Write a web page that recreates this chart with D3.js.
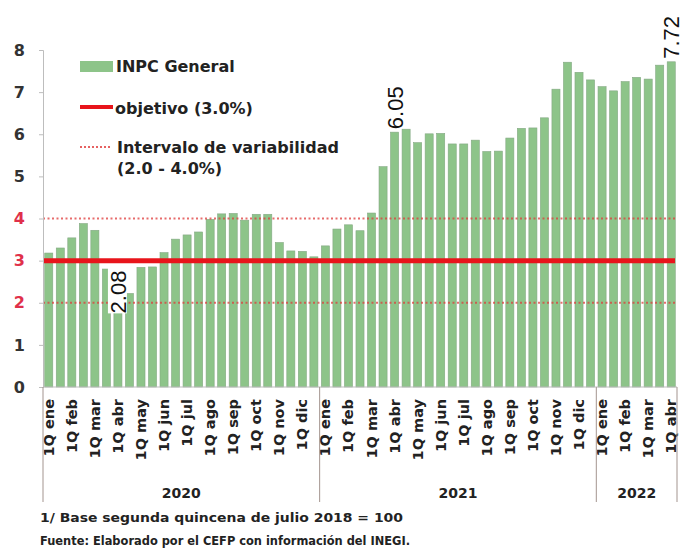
<!DOCTYPE html>
<html>
<head>
<meta charset="utf-8">
<script src="https://cdn.jsdelivr.net/npm/d3@7"></script>
<style>
  body { margin: 0; background: #fff; }
  svg { display: block; }
</style>
</head>
<body>
<svg id="chart" width="682" height="548"></svg>
<script>
// Datos: inflacion anual del INPC por quincena (%)
var meses = ["ene", "feb", "mar", "abr", "may", "jun", "jul", "ago", "sep", "oct", "nov", "dic"]
var quincenas = ["1Q", "2Q"]
var anios = ["2020", "2021", "2022"]

var inpc2020 = [3.18, 3.30, 3.54, 3.88, 3.72, 2.80, 2.08, 2.22, 2.84, 2.85, 3.19, 3.51,
                3.61, 3.68, 3.98, 4.11, 4.12, 3.96, 4.10, 4.10, 3.43, 3.23, 3.22, 3.09]
var inpc2021 = [3.35, 3.75, 3.85, 3.71, 4.13, 5.23, 6.05, 6.12, 5.80, 6.01, 6.02, 5.77,
                5.77, 5.86, 5.59, 5.60, 5.91, 6.14, 6.15, 6.39, 7.07, 7.71, 7.47, 7.29]
var inpc2022 = [7.13, 7.03, 7.25, 7.35, 7.31, 7.64, 7.72]

var objetivo = 3.0
var intervalo = [2.0, 4.0]
var yTicks = [0, 1, 2, 3, 4, 5, 6, 7, 8]
var destacados = ["2020 1Q abr", "2021 1Q abr", "2022 1Q abr"]

var leyenda = ["INPC General", "objetivo (3.0%)", "Intervalo de variabilidad", "(2.0 - 4.0%)"]
var notas = ["1/ Base segunda quincena de julio 2018 = 100",
             "Fuente: Elaborado por el CEFP con información del INEGI."]

// build rows
var series = [inpc2020, inpc2021, inpc2022]
var data = []
series.forEach(function(vals, k) {
    vals.forEach(function(v, i) {
        var cat = quincenas[i % 2] + " " + meses[Math.floor(i / 2)]
        data.push({ key: anios[k] + " " + cat, anio: anios[k], cat: cat, value: v })
    })
})

var plotLeft = 43, plotRight = 677, plotTop = 50, plotBottom = 387
var green = "#8dc489", red = "#e8141b", dotRed = "#e03c3c"
var font = "'DejaVu Sans', sans-serif"

var svg = d3.select("#chart")

var x = d3.scaleBand()
    .domain(data.map(function(d) { return d.key }))
    .range([plotLeft, plotRight])
    .paddingInner(0.3)
    .paddingOuter(0.15)

var y = d3.scaleLinear().domain([0, 8]).range([plotBottom, plotTop])

// bars
svg.append("g").selectAll("rect")
    .data(data)
    .join("rect")
    .attr("x", function(d) { return x(d.key) })
    .attr("y", function(d) { return y(d.value) })
    .attr("width", x.bandwidth())
    .attr("height", function(d) { return y(0) - y(d.value) })
    .attr("fill", green)
    .attr("stroke", "#84a883")
    .attr("stroke-width", 0.6)

// interval lines
svg.append("g").selectAll("line")
    .data(intervalo)
    .join("line")
    .attr("x1", plotLeft).attr("x2", plotRight)
    .attr("y1", function(d) { return y(d) })
    .attr("y2", function(d) { return y(d) })
    .attr("stroke", dotRed)
    .attr("stroke-width", 2)
    .attr("stroke-dasharray", "2,2.5")
    .attr("opacity", 0.75)

// objective line
svg.append("line")
    .attr("x1", plotLeft).attr("x2", plotRight - 2)
    .attr("y1", y(objetivo)).attr("y2", y(objetivo))
    .attr("stroke", red)
    .attr("stroke-width", 5)

// y axis
var yAxis = svg.append("g")
    .attr("transform", "translate(" + plotLeft + ",0)")
    .call(d3.axisLeft(y).tickValues(yTicks).tickSize(4).tickPadding(14))
yAxis.select(".domain").attr("stroke", "#bdbdbd")
yAxis.selectAll(".tick line").attr("stroke", "#bdbdbd")
yAxis.selectAll(".tick text")
    .style("font-family", font)
    .style("font-size", "16px")
    .style("font-weight", "bold")
    .attr("fill", function(d) { return (d >= intervalo[0] && d <= intervalo[1]) ? "#e0304a" : "#333" })

// x axis baseline
svg.append("line")
    .attr("x1", plotLeft).attr("x2", plotRight)
    .attr("y1", y(0)).attr("y2", y(0))
    .attr("stroke", "#bdbdbd")

// category labels (only 1Q)
svg.append("g").selectAll("text")
    .data(data.filter(function(d) { return d.cat.indexOf("1Q") === 0 }))
    .join("text")
    .attr("transform", function(d) {
        return "translate(" + (x(d.key) + x.bandwidth() / 2 + 5) + "," + (plotBottom + 12) + ") rotate(-90)"
    })
    .attr("text-anchor", "end")
    .style("font-family", font)
    .style("font-size", "14.5px")
    .style("font-weight", "bold")
    .attr("fill", "#222")
    .text(function(d) { return d.cat })

// year groups
var groups = anios.map(function(a) {
    var rows = data.filter(function(d) { return d.anio === a })
    var x0 = x(rows[0].key) - x.step() * x.paddingInner() / 2
    var x1 = x(rows[rows.length - 1].key) + x.bandwidth() + x.step() * x.paddingInner() / 2
    return { anio: a, x0: Math.max(x0, plotLeft), x1: Math.min(x1, plotRight) }
})
var bounds = [groups[0].x0].concat(groups.map(function(g) { return g.x1 }))
svg.append("g").selectAll("line")
    .data(bounds)
    .join("line")
    .attr("x1", function(d) { return d }).attr("x2", function(d) { return d })
    .attr("y1", plotBottom).attr("y2", 502)
    .attr("stroke", "#a3948f")
    .attr("stroke-width", 1)

svg.append("g").selectAll("text")
    .data(groups)
    .join("text")
    .attr("x", function(d) { return (d.x0 + d.x1) / 2 })
    .attr("y", 498)
    .attr("text-anchor", "middle")
    .style("font-family", font)
    .style("font-size", "14px")
    .style("font-weight", "bold")
    .attr("fill", "#222")
    .text(function(d) { return d.anio })

// value labels
var lab = svg.append("g").selectAll("g")
    .data(data.filter(function(d) { return destacados.indexOf(d.key) >= 0 }))
    .join("g")
    .attr("transform", function(d) {
        var off = d.value < objetivo ? 14 : -3
        return "translate(" + (x(d.key) + x.bandwidth() / 2 + 8) + "," + (y(d.value) + off) + ") rotate(-90)"
    })
lab.filter(function(d) { return d.value < objetivo })
    .append("rect")
    .attr("x", 0).attr("y", -18).attr("width", 46).attr("height", 19)
    .attr("fill", "#fff")
lab.append("text")
    .style("font-family", "'Liberation Sans', Arial, sans-serif")
    .style("font-size", "22px")
    .attr("fill", "#111")
    .text(function(d) { return d.value.toFixed(2) })

// legend
var lg = svg.append("g").style("font-family", font).style("font-size", "16px").style("font-weight", "bold").attr("fill", "#222")
lg.append("rect").attr("x", 80).attr("y", 61).attr("width", 33).attr("height", 11).attr("fill", green)
lg.append("text").attr("x", 116).attr("y", 72).text(leyenda[0])
lg.append("line").attr("x1", 80).attr("x2", 113).attr("y1", 107).attr("y2", 107)
    .attr("stroke", red).attr("stroke-width", 4)
lg.append("text").attr("x", 115).attr("y", 114).text(leyenda[1])
lg.append("line").attr("x1", 80).attr("x2", 112).attr("y1", 147).attr("y2", 147)
    .attr("stroke", dotRed).attr("stroke-width", 2).attr("stroke-dasharray", "2,2").attr("opacity", 0.8)
lg.append("text").attr("x", 117).attr("y", 153).text(leyenda[2])
lg.append("text").attr("x", 117).attr("y", 174).text(leyenda[3])

// footnotes
svg.append("g").selectAll("text")
    .data(notas)
    .join("text")
    .attr("x", 40)
    .attr("y", function(d, i) { return 522 + i * 23 })
    .attr("textLength", function(d, i) { return i === 0 ? 363 : 370 })
    .attr("lengthAdjust", "spacingAndGlyphs")
    .style("font-family", font)
    .style("font-size", "13px")
    .style("font-weight", "bold")
    .attr("fill", "#222")
    .text(function(d) { return d })
</script>
</body>
</html>
